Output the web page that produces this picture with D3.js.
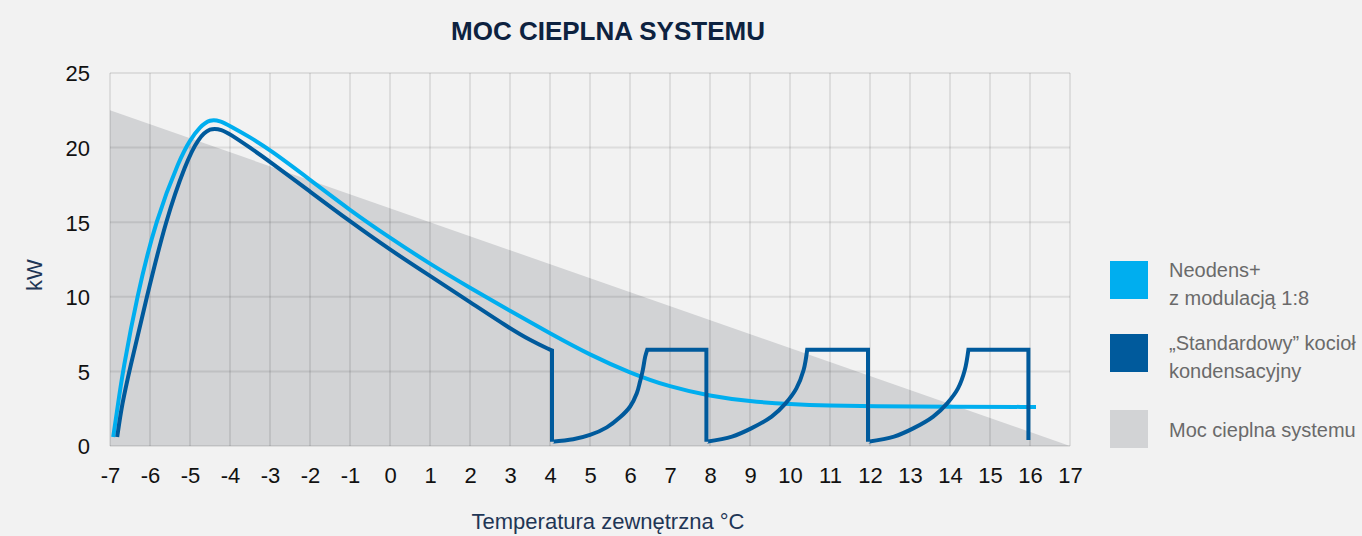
<!DOCTYPE html>
<html><head><meta charset="utf-8">
<script src="https://cdn.jsdelivr.net/npm/d3@7"></script>
<style>
html,body{margin:0;padding:0;background:#f2f2f2;}
svg{display:block;font-family:"Liberation Sans",Arial,sans-serif;}
</style></head>
<body>
<svg id="chart" width="1362" height="536"></svg>
<script>
// ---- data ----
const title = "MOC CIEPLNA SYSTEMU";
const xLabel = "Temperatura zewnętrzna °C";
const yLabel = "kW";
const xTicks = [-7, -6, -5, -4, -3, -2, -1, 0, 1, 2, 3, 4, 5, 6, 7, 8, 9, 10, 11, 12, 13, 14, 15, 16, 17];
const yTicks = [0, 5, 10, 15, 20, 25];
// system heat demand (grey triangle)
const demandX = [-7, 17];
const demandY = [22.5, 0];
// Neodens+ (1:8 modulation)
const neoX = [-6.92, -6.8, -6.68, -6.33, -5.85, -5.25, -5.0, -4.75, -4.5, -4.25, -4.0, -3.5, -3.0, -2.0, -1.0, 0.0, 1.0, 2.0, 3.0, 4.0, 5.0, 6.0, 7.0, 8.0, 9.0, 10.0, 11.0, 12.0, 14.0, 16.1, 16.15];
const neoY = [0.6, 2.8, 5.0, 10.0, 15.2, 19.3, 20.5, 21.4, 21.9, 21.8, 21.45, 20.7, 19.85, 17.85, 15.8, 13.95, 12.2, 10.6, 9.05, 7.55, 6.1, 4.9, 3.95, 3.35, 2.98, 2.8, 2.7, 2.66, 2.63, 2.62, 2.62];
// "Standard" condensing boiler: main curve
const stdX = [-6.82, -6.7, -6.52, -6.08, -5.6, -5.1, -4.8, -4.5, -4.2, -4.0, -3.5, -3.0, -2.0, -1.0, 0.0, 1.0, 2.0, 3.0, 3.5, 4.0, 4.05];
const stdY = [0.6, 2.8, 5.0, 10.0, 15.2, 19.0, 20.6, 21.35, 21.2, 20.9, 20.0, 19.06, 17.05, 15.05, 13.15, 11.4, 9.65, 7.88, 7.1, 6.45, 6.4];
// on/off cycling arcs
const arc1X = [4.05, 4.58, 5.0, 5.42, 5.75, 6.0, 6.17, 6.25, 6.32, 6.38, 6.43];
const arc1Y = [0.29, 0.45, 0.74, 1.25, 1.92, 2.63, 3.53, 4.31, 5.09, 5.99, 6.45];
const arc2X = [7.91, 8.55, 9.03, 9.54, 9.89, 10.16, 10.34, 10.43];
const arc2Y = [0.29, 0.63, 1.18, 1.97, 2.86, 3.86, 5.09, 6.45];
const arc3X = [11.95, 12.6, 13.08, 13.58, 13.93, 14.2, 14.37, 14.46];
const arc3Y = [0.29, 0.63, 1.18, 1.97, 2.86, 3.86, 5.09, 6.45];
const cycleOffX = [7.91, 11.95, 15.96];
const cycleTopY = 6.45;
const cycleBottomY = [0.29, 0.29, 0.4];
const legendItems = [
  {lines: ["Neodens+", "z modulacją 1:8"], color: "#00aeef"},
  {lines: ["„Standardowy” kocioł", "kondensacyjny"], color: "#005a9c"},
  {lines: ["Moc cieplna systemu"], color: "#d2d3d5"}
];

// ---- drawing ----
const svg = d3.select("#chart");
const m = {left: 110, right: 1070, top: 73, bottom: 446};
const x = d3.scaleLinear().domain([-7, 17]).range([m.left, m.right]);
const y = d3.scaleLinear().domain([0, 25]).range([m.bottom, m.top]);
const zip = (a, b) => a.map((v, i) => [v, b[i]]);
const tickFont = '"Liberation Sans Narrow", "Liberation Sans", Arial, sans-serif';

// grey area
svg.append("path")
  .datum(zip(demandX, demandY))
  .attr("fill", "#d2d3d5")
  .attr("d", d3.area().x(d => x(d[0])).y0(y(0)).y1(d => y(d[1])));

// grid
const g = svg.append("g").attr("stroke", "#000").attr("stroke-opacity", 0.085).attr("stroke-width", 2);
g.selectAll("line.v").data(xTicks).join("line")
  .attr("x1", d => x(d)).attr("x2", d => x(d)).attr("y1", y(25)).attr("y2", y(0));
g.selectAll("line.h").data(yTicks).join("line")
  .attr("x1", x(-7)).attr("x2", x(17)).attr("y1", d => y(d)).attr("y2", d => y(d));

// axes labels
const xAxis = d3.axisBottom(x).tickValues(xTicks).tickSize(0).tickPadding(0).tickFormat(d => String(d));
const gx = svg.append("g").attr("transform", `translate(0,${m.bottom})`).call(xAxis);
gx.select(".domain").remove();
gx.selectAll("text").attr("font-size", 22).attr("fill", "#111").attr("dy", 0).attr("y", 37)
  .attr("font-family", tickFont);
const yAxis = d3.axisLeft(y).tickValues(yTicks).tickSize(0).tickPadding(0).tickFormat(d => String(d));
const gy = svg.append("g").attr("transform", `translate(90,0)`).call(yAxis);
gy.select(".domain").remove();
gy.selectAll("text").attr("font-size", 22).attr("fill", "#111").attr("dy", "0.36em")
  .attr("font-family", tickFont);

// lines
const smooth = d3.line().x(d => x(d[0])).y(d => y(d[1])).curve(d3.curveBasis);
const line = d3.line().x(d => x(d[0])).y(d => y(d[1])).curve(d3.curveCatmullRom.alpha(0.5));
svg.append("path")
  .attr("fill", "none").attr("stroke", "#00aeef").attr("stroke-width", 4)
  .attr("stroke-linejoin", "round")
  .attr("d", smooth(zip(neoX, neoY)));

const arcs = [zip(arc1X, arc1Y), zip(arc2X, arc2Y), zip(arc3X, arc3Y)];
let dStd = smooth(zip(stdX, stdY));
arcs.forEach((a, i) => {
  dStd += "L" + x(a[0][0]) + "," + y(a[0][1]);
  dStd += line(a).replace(/^M[^CL]*/, "");
  dStd += "L" + x(cycleOffX[i]) + "," + y(cycleTopY);
  dStd += "L" + x(cycleOffX[i]) + "," + y(cycleBottomY[i]);
});
svg.append("path")
  .attr("fill", "none").attr("stroke", "#005a9c").attr("stroke-width", 4)
  .attr("stroke-linejoin", "miter")
  .attr("d", dStd);

// title
svg.append("text").attr("x", 608).attr("y", 40).attr("text-anchor", "middle")
  .attr("font-size", 26).attr("font-weight", "bold").attr("fill", "#0d2240").text(title);
svg.append("text").attr("x", 608).attr("y", 529).attr("text-anchor", "middle")
  .attr("font-size", 22).attr("fill", "#1f3656").text(xLabel);
svg.append("text").attr("transform", "translate(42,275) rotate(-90)").attr("text-anchor", "middle")
  .attr("font-size", 22).attr("fill", "#1f3656").text(yLabel);

// legend
const legTop = [261, 334, 410];
const lg = svg.append("g");
legendItems.forEach((it, i) => {
  lg.append("rect").attr("x", 1110).attr("y", legTop[i]).attr("width", 38).attr("height", 38).attr("fill", it.color);
  it.lines.forEach((t, j) => {
    lg.append("text").attr("x", 1169).attr("y", (it.lines.length === 1 ? legTop[i] + 27 : legTop[i] + 16 + j * 28))
      .attr("font-size", 20).attr("fill", "#6a6a6a").text(t);
  });
});
</script>
</body></html>
